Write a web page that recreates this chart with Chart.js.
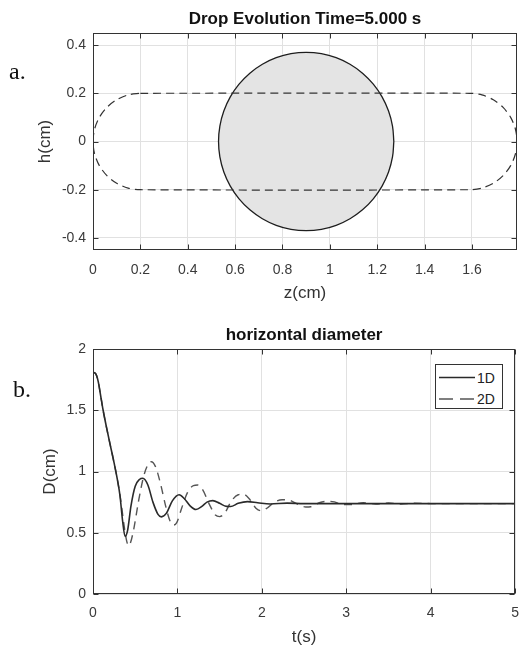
<!DOCTYPE html>
<html>
<head>
<meta charset="utf-8">
<script src="https://cdn.jsdelivr.net/npm/chart.js@4.4.1/dist/chart.umd.min.js"></script>
<style>
html,body{margin:0;padding:0;background:#fff;width:530px;height:648px;overflow:hidden;position:relative;font-family:"Liberation Sans",Arial,sans-serif}
.wrap{position:absolute;left:0;width:530px}
.tag{position:absolute;font-family:"Liberation Serif","Times New Roman",serif;font-size:24px;color:#111;line-height:24px}
#legend{position:absolute;left:435px;top:364px;width:66px;height:43px;border:1px solid #333;background:#fff}
#legend svg{position:absolute;left:0;top:0}
#legend span{position:absolute;left:41px;font-size:14px;line-height:16px;color:#222}
</style>
</head>
<body>
<div class="wrap" style="top:0;height:315px"><canvas id="c1" width="530" height="315"></canvas></div>
<div class="wrap" style="top:320px;height:328px"><canvas id="c2" width="530" height="328"></canvas></div>
<div class="tag" style="left:9px;top:59px">a.</div>
<div class="tag" style="left:13px;top:377px">b.</div>
<div id="legend"></div>
<script>
// ---------- data ----------
// Panel a: final drop outline (z, h) in cm
const dropZ = [1.27,1.2644,1.2477,1.2204,1.1834,1.1378,1.085,1.0265,0.9642,0.9,0.8358,0.7735,0.715,0.6622,0.6166,0.5796,0.5523,0.5356,0.53,0.5356,0.5523,0.5796,0.6166,0.6622,0.715,0.7735,0.8358,0.9,0.9642,1.0265,1.085,1.1378,1.1834,1.2204,1.2477,1.2644,1.27];
const dropH = [0,0.0642,0.1265,0.185,0.2378,0.2834,0.3204,0.3477,0.3644,0.37,0.3644,0.3477,0.3204,0.2834,0.2378,0.185,0.1265,0.0642,0,-0.0642,-0.1265,-0.185,-0.2378,-0.2834,-0.3204,-0.3477,-0.3644,-0.37,-0.3644,-0.3477,-0.3204,-0.2834,-0.2378,-0.185,-0.1265,-0.0642,0];
// Panel a: initial (elongated) shape outline
const initZ = [0.2,1.59,1.6418,1.69,1.7314,1.7632,1.7832,1.79,1.7832,1.7632,1.7314,1.69,1.6418,1.59,0.2,0.1482,0.1,0.0586,0.0268,0.0068,0,0.0068,0.0268,0.0586,0.1,0.1482,0.2];
const initH = [0.2,0.2,0.1932,0.1732,0.1414,0.1,0.0518,0,-0.0518,-0.1,-0.1414,-0.1732,-0.1932,-0.2,-0.2,-0.1932,-0.1732,-0.1414,-0.1,-0.0518,0,0.0518,0.1,0.1414,0.1732,0.1932,0.2];
const topXTicks = [0,0.2,0.4,0.6,0.8,1,1.2,1.4,1.6];
const topYTicks = [-0.4,-0.2,0,0.2,0.4];

// Panel b: horizontal diameter vs time
const seriesNames = ['1D','2D'];
const time1D = [0,0.03,0.06,0.10,0.12,0.16,0.20,0.25,0.29,0.32,0.35,0.38,0.41,0.45,0.50,0.55,0.59,0.65,0.71,0.77,0.81,0.87,0.94,1.02,1.08,1.15,1.22,1.29,1.35,1.42,1.50,1.58,1.63,1.72,1.83,1.95,2.1,2.3,2.5,3.0,5.0];
const diam1D = [1.81,1.80,1.74,1.58,1.50,1.36,1.23,1.07,0.93,0.80,0.60,0.47,0.52,0.72,0.88,0.935,0.945,0.89,0.75,0.65,0.63,0.66,0.76,0.81,0.78,0.72,0.69,0.715,0.75,0.762,0.74,0.715,0.714,0.74,0.754,0.745,0.735,0.742,0.738,0.738,0.738];
const time2D = [0,0.03,0.06,0.10,0.12,0.16,0.20,0.25,0.29,0.33,0.37,0.40,0.42,0.44,0.48,0.54,0.60,0.65,0.69,0.74,0.80,0.86,0.91,0.95,0.99,1.05,1.12,1.19,1.24,1.30,1.38,1.45,1.50,1.56,1.64,1.72,1.78,1.86,1.93,1.99,2.06,2.15,2.24,2.32,2.42,2.52,2.58,2.68,2.78,2.86,2.95,3.05,3.2,3.35,3.5,3.65,3.8,4.0,5.0];
const diam2D = [1.81,1.80,1.74,1.58,1.50,1.36,1.23,1.07,0.93,0.76,0.55,0.43,0.395,0.41,0.52,0.76,0.96,1.055,1.08,1.04,0.90,0.72,0.60,0.563,0.58,0.70,0.83,0.885,0.89,0.85,0.73,0.645,0.632,0.66,0.76,0.81,0.815,0.77,0.70,0.68,0.70,0.75,0.77,0.767,0.735,0.71,0.712,0.745,0.757,0.752,0.732,0.73,0.745,0.735,0.743,0.735,0.741,0.738,0.738];
const botXTicks = [0,1,2,3,4,5];
const botYTicks = [0,0.5,1,1.5,2];

// ---------- helpers ----------
const FONT = '"Liberation Sans", Arial, sans-serif';
const pts = (xs, ys) => xs.map((x, i) => ({x, y: ys[i]}));

function axis(o){
  return {
    type:'linear', min:o.min, max:o.max,
    afterBuildTicks: s => { s.ticks = o.ticks.map(v => ({value:v})); },
    afterFit: s => { if (o.w != null) s.width = o.w; if (o.h != null) s.height = o.h; },
    grid:{color:'#e1e1e1', lineWidth:1, drawTicks:false},
    border:{display:false},
    ticks:{color:'#3a3a3a', font:{family:FONT, size:14}, padding:o.pad, maxRotation:0, autoSkip:false, callback:v => String(v)},
    title:{display:true, text:o.title, color:'#333', font:{family:FONT, size:17}, padding:o.tpad}
  };
}

const framePlugin = {
  id:'frame',
  afterDatasetsDraw(chart){
    const {ctx, chartArea:a, scales} = chart;
    const L = Math.round(a.left)+0.5, R = Math.round(a.right)-0.5, T = Math.round(a.top)+0.5, B = Math.round(a.bottom)-0.5;
    ctx.save();
    ctx.strokeStyle = '#333'; ctx.lineWidth = 1;
    ctx.beginPath();
    scales.x.ticks.forEach(t => {
      const p = Math.round(scales.x.getPixelForValue(t.value))+0.5;
      ctx.moveTo(p, B); ctx.lineTo(p, B-5);
      ctx.moveTo(p, T); ctx.lineTo(p, T+5);
    });
    scales.y.ticks.forEach(t => {
      const p = Math.round(scales.y.getPixelForValue(t.value))+0.5;
      ctx.moveTo(L, p); ctx.lineTo(L+5, p);
      ctx.moveTo(R, p); ctx.lineTo(R-5, p);
    });
    ctx.stroke();
    ctx.strokeRect(L, T, R-L, B-T);
    ctx.restore();
  }
};

// ---------- panel a ----------
new Chart(document.getElementById('c1'), {
  type:'scatter',
  data:{datasets:[
    {label:'initial', data:pts(initZ, initH), showLine:true, pointRadius:0, borderColor:'#333', borderWidth:1.2, borderDash:[8,5], tension:0.3, fill:false, order:0},
    {label:'drop', data:pts(dropZ, dropH), showLine:true, pointRadius:0, borderColor:'#1e1e1e', borderWidth:1.3, backgroundColor:'#e4e4e4', tension:0.4, fill:'shape', order:1}
  ]},
  options:{
    responsive:false, animation:false, devicePixelRatio:1,
    layout:{padding:{left:0, right:13, top:0, bottom:0}},
    scales:{
      x: axis({min:0, max:1.79, ticks:topXTicks, h:65, pad:12, title:'z(cm)', tpad:{top:0, bottom:11.8}}),
      y: axis({min:-0.45, max:0.45, ticks:topYTicks, w:93, pad:7, title:'h(cm)', tpad:{top:35.6, bottom:0}})
    },
    plugins:{
      legend:{display:false}, tooltip:{enabled:false},
      title:{display:true, text:'Drop Evolution Time=5.000 s', fullSize:false, color:'#111', font:{family:FONT, size:17, weight:'bold'}, padding:{top:9.5, bottom:3.1}}
    }
  },
  plugins:[framePlugin]
});

// ---------- panel b ----------
const chartB = new Chart(document.getElementById('c2'), {
  type:'scatter',
  data:{datasets:[
    {label:seriesNames[0], data:pts(time1D, diam1D), showLine:true, pointRadius:0, borderColor:'#2a2a2a', borderWidth:1.6, cubicInterpolationMode:'monotone', fill:false},
    {label:seriesNames[1], data:pts(time2D, diam2D), showLine:true, pointRadius:0, borderColor:'#555', borderWidth:1.4, borderDash:[8,6], cubicInterpolationMode:'monotone', fill:false}
  ]},
  options:{
    responsive:false, animation:false, devicePixelRatio:1,
    layout:{padding:{left:0, right:13, top:0, bottom:0}},
    scales:{
      x: axis({min:0, max:5, ticks:botXTicks, h:54, pad:11, title:'t(s)', tpad:{top:0, bottom:0.8}}),
      y: axis({min:0, max:2, ticks:botYTicks, w:93, pad:7, title:'D(cm)', tpad:{top:39.8, bottom:0}})
    },
    plugins:{
      legend:{display:false}, tooltip:{enabled:false},
      title:{display:true, text:'horizontal diameter', fullSize:false, color:'#111', font:{family:FONT, size:17, weight:'bold'}, padding:{top:4.8, bottom:3.8}}
    }
  },
  plugins:[framePlugin]
});

// ---------- legend (panel b) ----------
(function(){
  const lg = document.getElementById('legend');
  const ds = chartB.data.datasets;
  const rowsY = [12.5, 34];
  let svg = '<svg width="66" height="43" xmlns="http://www.w3.org/2000/svg">';
  ds.forEach((d, i) => {
    const dash = d.borderDash ? ' stroke-dasharray="14 7"' : '';
    svg += '<line x1="3" x2="39" y1="'+rowsY[i]+'" y2="'+rowsY[i]+'" stroke="'+d.borderColor+'" stroke-width="'+d.borderWidth+'"'+dash+'/>';
  });
  svg += '</svg>';
  lg.innerHTML = svg + ds.map((d, i) => '<span style="top:'+(rowsY[i]-8)+'px">'+d.label+'</span>').join('');
})();
</script>
</body>
</html>
